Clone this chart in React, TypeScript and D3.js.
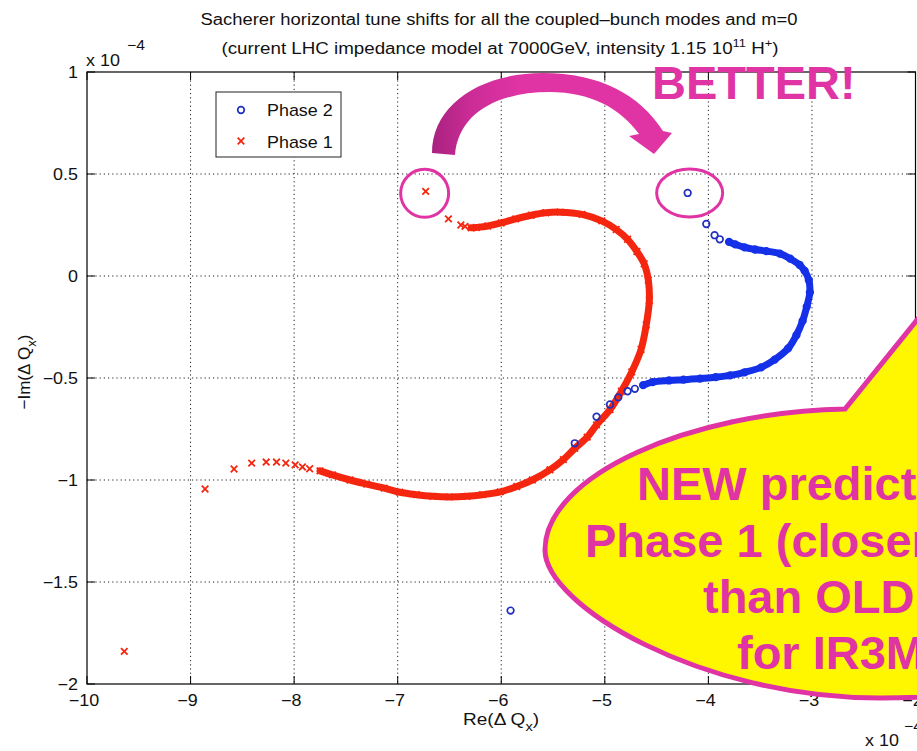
import React from 'react';
import * as d3 from 'd3';

// ---------------- data (units of 1e-4) ----------------
const xTicks = [-10, -9, -8, -7, -6, -5, -4, -3, -2];
const yTicks = [-2, -1.5, -1, -0.5, 0, 0.5, 1];
const xTickLabels = ['−10', '−9', '−8', '−7', '−6', '−5', '−4', '−3', '−2'];
const yTickLabels = ['−2', '−1.5', '−1', '−0.5', '0', '0.5', '1'];

// Phase 1 (red x): isolated modes before the dense band
const phase1HeadRe = [-9.64, -8.86, -8.58, -8.41, -8.27, -8.17, -8.08, -7.99, -7.92, -7.85];
const phase1HeadIm = [-1.84, -1.044, -0.946, -0.917, -0.912, -0.912, -0.917, -0.926, -0.936, -0.945];
// Phase 1 dense band
const phase1BandRe = [-7.75, -7.63, -7.46, -7.30, -7.13, -6.98, -6.82, -6.66, -6.50, -6.33, -6.18, -6.01, -5.85, -5.70, -5.53, -5.40, -5.29, -5.17, -5.08, -4.95, -4.84, -4.74, -4.65, -4.60, -4.57, -4.58, -4.62, -4.69, -4.78, -4.89, -5.03, -5.22, -5.43, -5.57, -5.71, -5.86, -6.00, -6.13, -6.24, -6.29];
const phase1BandIm = [-0.955, -0.975, -1.0, -1.02, -1.04, -1.06, -1.072, -1.08, -1.083, -1.08, -1.072, -1.058, -1.032, -1.0, -0.95, -0.9, -0.845, -0.79, -0.73, -0.655, -0.565, -0.47, -0.36, -0.24, -0.12, -0.02, 0.06, 0.12, 0.18, 0.228, 0.27, 0.302, 0.313, 0.31, 0.298, 0.28, 0.26, 0.245, 0.238, 0.236];
// Phase 1 isolated modes after the band
const phase1TailRe = [-6.35, -6.39, -6.51, -6.73];
const phase1TailIm = [0.243, 0.25, 0.28, 0.415];

// Phase 2 (blue o)
const phase2HeadRe = [-5.91, -5.29, -5.08, -4.95, -4.87, -4.78, -4.71];
const phase2HeadIm = [-1.64, -0.82, -0.69, -0.63, -0.595, -0.565, -0.553];
const phase2BandRe = [-4.63, -4.54, -4.38, -4.24, -4.08, -3.93, -3.79, -3.65, -3.49, -3.36, -3.23, -3.15, -3.09, -3.05, -3.02, -3.03, -3.07, -3.12, -3.21, -3.31, -3.44, -3.55, -3.65, -3.74, -3.80];
const phase2BandIm = [-0.535, -0.52, -0.512, -0.508, -0.503, -0.496, -0.487, -0.472, -0.448, -0.41, -0.355, -0.29, -0.22, -0.15, -0.08, -0.02, 0.025, 0.055, 0.085, 0.11, 0.122, 0.13, 0.14, 0.155, 0.167];
const phase2TailRe = [-3.89, -3.94, -4.02, -4.20];
const phase2TailIm = [0.18, 0.2, 0.255, 0.407];

const titleLine1 = 'Sacherer horizontal tune shifts for all the coupled–bunch modes and m=0';
const bubbleLines = ['NEW predictions for', 'Phase 1 (closer to stability)', 'than OLD ones', 'for IR3MBC'];

// ---------------- styles ----------------
const FONT = '"Liberation Sans", Arial, Helvetica, sans-serif';
const RED = '#f5260f';
const BLUE = '#1430e8';
const BLUE_DARK = '#1f2fc0';
const MAGENTA = '#e034a4';
const SX = 1.12;

const zip = (a: number[], b: number[]) => a.map((v, i) => [v, b[i]] as [number, number]);

export default function App() {
  const W = 917, H = 751;
  const x = d3.scaleLinear().domain([-10, -2]).range([87, 915.5]);
  const y = d3.scaleLinear().domain([-2, 1]).range([684, 72]);
  const [x0, x1] = x.range();
  const [y0, y1] = y.range();

  const line = d3.line<[number, number]>().x(d => x(d[0])).y(d => y(d[1])).curve(d3.curveCatmullRom);

  const p1All = [...zip(phase1HeadRe, phase1HeadIm), ...zip(phase1BandRe, phase1BandIm), ...zip(phase1TailRe, phase1TailIm)];
  const p2All = [...zip(phase2HeadRe, phase2HeadIm), ...zip(phase2BandRe, phase2BandIm), ...zip(phase2TailRe, phase2TailIm)];
  const p1Band = zip(phase1BandRe, phase1BandIm);
  const p2Band = zip(phase2BandRe, phase2BandIm);

  const cross = (cx: number, cy: number, s: number, key: any, color = RED) => (
    <path key={key} d={`M${cx - s},${cy - s}L${cx + s},${cy + s}M${cx - s},${cy + s}L${cx + s},${cy - s}`} stroke={color} strokeWidth={1.8} fill="none" />
  );

  const sText = (tx: number, ty: number, s: string, anchor: string, size = 16, key?: any) => (
    <text key={key} transform={`translate(${tx},${ty}) scale(${SX},1)`} textAnchor={anchor as any} fontSize={size} fontFamily={FONT} fill="#111">{s}</text>
  );

  const p1Last = p1All[p1All.length - 1];
  const p2Last = p2All[p2All.length - 1];

  return (
    <svg width={W} height={H} style={{ position: 'absolute', left: 0, top: 0, background: '#fff' }}>
      <defs>
        <linearGradient id="arrowGrad" gradientUnits="userSpaceOnUse" x1="432" y1="0" x2="520" y2="0">
          <stop offset="0" stopColor="#a8227f" />
          <stop offset="0.45" stopColor="#cc2c97" />
          <stop offset="1" stopColor={MAGENTA} />
        </linearGradient>
      </defs>
      <rect width={W} height={H} fill="#fff" />

      {/* grid */}
      {xTicks.slice(1, -1).map(t => (
        <line key={'gx' + t} x1={x(t)} x2={x(t)} y1={y1} y2={y0} stroke="#222" strokeWidth={1} strokeDasharray="1.2,3" />
      ))}
      {yTicks.slice(1, -1).map(t => (
        <line key={'gy' + t} x1={x0} x2={x1} y1={y(t)} y2={y(t)} stroke="#222" strokeWidth={1} strokeDasharray="1.2,3" />
      ))}

      {/* ticks */}
      {xTicks.map(t => (
        <g key={'tx' + t}>
          <line x1={x(t)} x2={x(t)} y1={y0} y2={y0 - 8} stroke="#000" />
          <line x1={x(t)} x2={x(t)} y1={y1} y2={y1 + 8} stroke="#000" />
        </g>
      ))}
      {yTicks.map(t => (
        <g key={'ty' + t}>
          <line x1={x0} x2={x0 + 8} y1={y(t)} y2={y(t)} stroke="#000" />
          <line x1={x1} x2={x1 - 8} y1={y(t)} y2={y(t)} stroke="#000" />
        </g>
      ))}
      {/* frame */}
      <rect x={x0} y={y1} width={x1 - x0} height={y0 - y1} fill="none" stroke="#000" strokeWidth={1.2} />

      {/* tick labels */}
      {xTicks.map((t, i) => sText(x(t) - 3, y0 + 22, xTickLabels[i], 'middle', 16, 'xl' + t))}
      {yTicks.map((t, i) => sText(x0 - 9, y(t) + 6, yTickLabels[i], 'end', 16, 'yl' + t))}

      {/* exponent labels */}
      {sText(86, 66, 'x 10', 'start', 16)}
      {sText(127, 50, '−4', 'start', 14)}
      {sText(865, 746, 'x 10', 'start', 16)}
      {sText(904, 731, '−4', 'start', 14)}

      {/* titles */}
      <text x={499} y={25} textAnchor="middle" fontSize={16} fontFamily={FONT} fill="#111" textLength={597} lengthAdjust="spacingAndGlyphs">{titleLine1}</text>
      <text x={500} y={54} textAnchor="middle" fontSize={16} fontFamily={FONT} fill="#111" textLength={557} lengthAdjust="spacingAndGlyphs">
        (current LHC impedance model at 7000GeV, intensity 1.15 10<tspan fontSize={11} dy={-7}>11</tspan><tspan dy={7}> H</tspan><tspan fontSize={11} dy={-7}>+</tspan><tspan dy={7}>)</tspan>
      </text>

      {/* axis labels */}
      <text transform={`translate(501,725) scale(${SX},1)`} textAnchor="middle" fontSize={17} fontFamily={FONT} fill="#111">
        Re(Δ Q<tspan fontSize={13} dy={6}>x</tspan><tspan dy={-6}>)</tspan>
      </text>
      <text transform="translate(30,372) rotate(-90)" textAnchor="middle" fontSize={17} fontFamily={FONT} fill="#111">
        −Im(Δ Q<tspan fontSize={13} dy={6}>x</tspan><tspan dy={-6}>)</tspan>
      </text>

      {/* dense bands */}
      <path d={line(p1Band) || ''} fill="none" stroke={RED} strokeWidth={7} strokeLinecap="round" strokeLinejoin="round" />
      <path d={line(p2Band) || ''} fill="none" stroke={BLUE} strokeWidth={7} strokeLinecap="round" strokeLinejoin="round" />

      {/* markers */}
      {p1All.map((d, i) => cross(x(d[0]), y(d[1]), 3.3, 'p1' + i))}
      {p2All.map((d, i) => (
        <circle key={'p2' + i} cx={x(d[0])} cy={y(d[1])} r={3.3} fill="none" stroke={i < phase2HeadRe.length || i >= p2All.length - phase2TailRe.length ? BLUE_DARK : BLUE} strokeWidth={1.7} />
      ))}

      {/* legend */}
      <rect x={216} y={92} width={125} height={65} fill="#fff" stroke="#222" strokeWidth={1} />
      <circle cx={241} cy={110} r={3.3} fill="none" stroke={BLUE_DARK} strokeWidth={1.7} />
      {sText(267, 116, 'Phase 2', 'start', 16)}
      {cross(241, 141, 3.3, 'legx')}
      {sText(267, 148, 'Phase  1', 'start', 16)}

      {/* annotation circles */}
      <ellipse cx={x(p1Last[0]) - 1} cy={y(p1Last[1]) + 2} rx={24} ry={24} fill="none" stroke={MAGENTA} strokeWidth={3} />
      <ellipse cx={x(p2Last[0]) + 2} cy={y(p2Last[1]) + 0} rx={33} ry={24} fill="none" stroke={MAGENTA} strokeWidth={3} />

      {/* curved arrow */}
      <path
        d="M 432 153 C 432 105, 480 73, 543 73 C 600 73, 640 95, 663 131 L 672 133 L 654 154 L 629 136 L 639 134 C 620 108, 590 92, 550 92 C 495 92, 458 115, 455 155 Z"
        fill="url(#arrowGrad)"
      />
      <text x={652} y={99} fontSize={47} fontWeight="bold" fontFamily={FONT} fill={MAGENTA}>BETTER!</text>

      {/* speech bubble */}
      <path
        d="M 545 550 C 545 475, 690 412, 845 409 L 1010 205 L 1000 405 C 1120 415, 1240 470, 1240 550 C 1240 640, 1060 698, 880 698 C 700 698, 545 605, 545 550 Z"
        fill="#fff700"
        stroke={MAGENTA}
        strokeWidth={5}
        strokeLinejoin="miter"
      />
      {bubbleLines.map((s, i) => (
        <text key={'b' + i} x={[637, 585, 703, 737][i]} y={[500, 557, 613, 669][i]} fontSize={47} fontWeight="bold" fontFamily={FONT} fill={MAGENTA}>{s}</text>
      ))}
    </svg>
  );
}
